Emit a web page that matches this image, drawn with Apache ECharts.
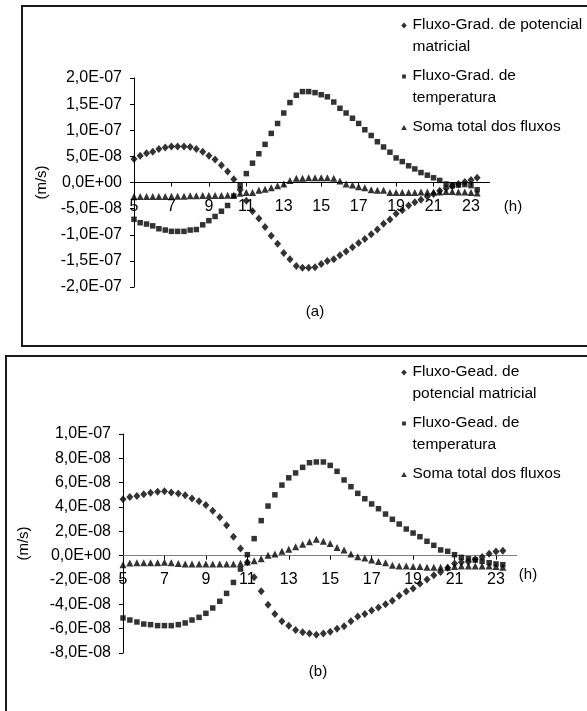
<!DOCTYPE html>
<html>
<head>
<meta charset="utf-8">
<script src="https://cdn.jsdelivr.net/npm/echarts@6/dist/echarts.min.js"></script>
<style>
html,body{margin:0;padding:0;background:#fff;}
#c{width:587px;height:711px;}
</style>
</head>
<body>
<div id="c"></div>
<script>
// ---------- data (values in units of 1E-08 m/s) ----------
const UNIT = 1e-8;
const hours = [5,5.33,5.67,6,6.33,6.67,7,7.33,7.67,8,8.33,8.67,9,9.33,9.67,10,10.33,10.67,11,11.33,11.67,12,12.33,12.67,13,13.33,13.67,14,
  14.33,14.67,15,15.33,15.67,16,16.33,16.67,17,17.33,17.67,18,18.33,18.67,19,19.33,19.67,20,20.33,20.67,21,21.33,21.67,22,22.33,22.67,23,23.33];

// (a)
const matA = [4.5,5.1,5.6,5.9,6.4,6.7,6.9,6.9,6.9,6.8,6.4,5.9,5.1,4.4,3.3,2.1,0.6,-1.4,-3.5,-5.5,-6.9,-8.5,-10.2,-11.7,-13.5,-14.7,-16.0,-16.3,
  -16.3,-16.2,-15.6,-15.0,-14.7,-13.9,-13.2,-12.4,-11.6,-10.8,-9.9,-9.0,-7.9,-7.1,-6.0,-5.3,-4.4,-3.8,-3.3,-2.7,-2.2,-1.6,-1.1,-0.7,-0.3,0.1,0.5,0.9];
const tempA = [-7.05,-7.7,-7.95,-8.3,-8.85,-9.1,-9.35,-9.35,-9.35,-9.1,-9.0,-8.1,-7.3,-6.5,-5.5,-4.4,-2.6,-0.6,1.7,3.7,5.5,7.3,9.4,11.3,13.3,15.3,16.7,17.4,
  17.4,17.2,16.8,16.4,15.4,14.2,13.3,12.3,11.3,10.1,9.0,7.8,6.8,5.8,4.7,4.0,3.2,2.6,1.9,1.4,0.9,0.4,-0.3,-0.6,-0.5,-0.4,-0.6,-1.4];
const sumA = [-2.7,-2.7,-2.7,-2.7,-2.7,-2.7,-2.65,-2.65,-2.65,-2.55,-2.55,-2.5,-2.5,-2.5,-2.5,-2.45,-2.4,-2.05,-1.9,-1.9,-1.5,-1.3,-1.0,-0.6,-0.3,0.4,0.8,0.8,
  0.9,0.9,0.9,0.9,0.8,0.3,-0.3,-0.5,-0.8,-1.0,-1.4,-1.5,-1.5,-1.9,-1.9,-1.9,-1.9,-1.9,-1.8,-1.8,-1.8,-1.8,-1.7,-1.7,-1.8,-1.8,-1.9,-2.0];

// (b)
const matB = [4.63,4.82,4.9,5.04,5.18,5.26,5.29,5.2,5.1,4.96,4.7,4.47,4.16,3.7,3.15,2.5,1.56,0.58,-0.55,-1.78,-2.93,-4.03,-4.8,-5.4,-5.75,-6.1,-6.3,-6.4,
  -6.5,-6.4,-6.25,-6.0,-5.8,-5.4,-5.0,-4.8,-4.5,-4.25,-4.0,-3.7,-3.3,-2.95,-2.7,-2.3,-1.95,-1.6,-1.35,-1.0,-0.65,-0.55,-0.5,-0.3,-0.1,0.15,0.35,0.4];
const tempB = [-5.12,-5.29,-5.45,-5.62,-5.67,-5.75,-5.75,-5.75,-5.67,-5.53,-5.29,-5.07,-4.74,-4.3,-3.75,-3.1,-2.2,-1.1,0.08,1.4,2.88,4.08,5.0,5.8,6.4,6.8,7.26,7.64,
  7.7,7.7,7.42,6.93,6.22,5.67,5.12,4.68,4.25,3.86,3.42,2.99,2.6,2.19,1.86,1.56,1.18,0.85,0.47,0.36,0.08,-0.14,-0.25,-0.36,-0.47,-0.58,-0.68,-0.74];
const sumB = [-0.74,-0.6,-0.58,-0.58,-0.58,-0.58,-0.55,-0.58,-0.65,-0.68,-0.68,-0.68,-0.68,-0.68,-0.68,-0.68,-0.68,-0.62,-0.52,-0.41,-0.25,0.03,0.14,0.36,0.52,0.74,0.93,1.15,
  1.35,1.18,1.01,0.68,0.47,0.14,-0.08,-0.19,-0.36,-0.47,-0.58,-0.79,-0.85,-0.85,-0.9,-0.9,-0.96,-0.96,-0.96,-0.96,-0.9,-0.85,-0.85,-0.85,-0.85,-0.85,-0.9,-0.96];

// ---------- names and tick labels ----------
const namesA = ['Fluxo-Grad. de potencial\nmatricial', 'Fluxo-Grad. de\ntemperatura', 'Soma total dos fluxos'];
const namesB = ['Fluxo-Gead. de\npotencial matricial', 'Fluxo-Gead. de\ntemperatura', 'Soma total dos fluxos'];
const xTicks = [5,7,9,11,13,15,17,19,21,23];
const xLabels = ['5','7','9','11','13','15','17','19','21','23'];
const yLabelsA = ['-2,0E-07','-1,5E-07','-1,0E-07','-5,0E-08','0,0E+00','5,0E-08','1,0E-07','1,5E-07','2,0E-07'];
const yLabelsB = ['-8,0E-08','-6,0E-08','-4,0E-08','-2,0E-08','0,0E+00','2,0E-08','4,0E-08','6,0E-08','8,0E-08','1,0E-07'];
const yA = {min: -2e-7, max: 2e-7, interval: 5e-8};
const yB = {min: -8e-8, max: 1e-7, interval: 2e-8};

// ---------- build ----------
const FONT = 'Liberation Sans';
const gridA = {left: 134, top: 78, width: 355.7, height: 209};
const gridB = {left: 123, top: 434, width: 393.7, height: 219};
const pts = arr => hours.map((h, i) => [h, arr[i] * UNIT]);
const iconDiamond = 'path://M0,0L0.01,0M7,44L6.99,44M3.5,8.5L6.3,11.5L3.5,14.5L0.7,11.5Z';
const iconSquare  = 'path://M0,0L0.01,0M7,44L6.99,44M1.6,9.6L5.4,9.6L5.4,13.4L1.6,13.4Z';
const iconTri     = 'path://M0,0L0.01,0M7,44L6.99,44M3.5,9L6.4,14L0.6,14Z';

// place the x axis on the y = 0 line of its grid
function zeroOffset(grid, cfg) {
  return -grid.height * (0 - cfg.min) / (cfg.max - cfg.min);
}
function xAxis(gi, lineColor, grid, cfg) {
  return {
    type: 'value', gridIndex: gi, min: 5, max: 24, interval: 1,
    position: 'bottom', offset: zeroOffset(grid, cfg),
    splitLine: {show: false},
    axisLine: {onZero: false, lineStyle: {color: lineColor, width: 1}},
    axisTick: {show: true, customValues: xTicks, length: 4, lineStyle: {color: '#000'}},
    axisLabel: {customValues: xTicks, formatter: v => xLabels[xTicks.indexOf(v)] || '',
      color: '#000', fontSize: 16, fontFamily: FONT, margin: 16}
  };
}
function yAxis(gi, cfg, labels, gap) {
  return {
    type: 'value', gridIndex: gi, min: cfg.min, max: cfg.max, interval: cfg.interval,
    splitLine: {show: false},
    name: '(m/s)', nameLocation: 'middle', nameGap: gap, nameRotate: 90,
    nameTextStyle: {color: '#000', fontSize: 15, fontFamily: FONT},
    axisLine: {show: true, onZero: false, lineStyle: {color: '#000', width: 1}},
    axisTick: {show: true, length: 4, lineStyle: {color: '#000'}},
    axisLabel: {formatter: v => labels[Math.round((v - cfg.min) / cfg.interval)] || '',
      color: '#000', fontSize: 16, fontFamily: FONT, margin: 12}
  };
}
function scatter(name, gi, arr, sym, size) {
  return {type: 'scatter', name: name, xAxisIndex: gi, yAxisIndex: gi, data: pts(arr),
    symbol: sym, symbolSize: size, itemStyle: {color: '#000'}, silent: true};
}
function legend(names, top) {
  return {
    orient: 'vertical', left: 400.5, top: top, padding: 0, itemWidth: 7, itemHeight: 44, itemGap: 7,
    selectedMode: false,
    itemStyle: {borderWidth: 0},
    data: [{name: names[0], icon: iconDiamond}, {name: names[1], icon: iconSquare}, {name: names[2], icon: iconTri}],
    formatter: n => n.indexOf('\n') >= 0 ? n : n + '\n ',
    textStyle: {color: '#000', fontSize: 15.5, lineHeight: 22, fontFamily: FONT}
  };
}
const txt = (x, y, t) => ({type: 'text', x: x, y: y, style: {text: t, fill: '#000', font: '15px "' + FONT + '"', textAlign: 'center', textVerticalAlign: 'middle'}});

const chart = echarts.init(document.getElementById('c'), null, {renderer: 'canvas'});
chart.setOption({
  animation: false,
  backgroundColor: '#fff',
  grid: [gridA, gridB],
  xAxis: [xAxis(0, '#000', gridA, yA), xAxis(1, '#808080', gridB, yB)],
  yAxis: [yAxis(0, yA, yLabelsA, 78), yAxis(1, yB, yLabelsB, 92)],
  legend: [legend(namesA, 14), legend(namesB, 361)],
  series: [
    scatter(namesA[2], 0, sumA, 'triangle', 7),
    scatter(namesA[1], 0, tempA, 'rect', 5.5),
    scatter(namesA[0], 0, matA, 'diamond', [7, 8]),
    scatter(namesB[2], 1, sumB, 'triangle', 7),
    scatter(namesB[1], 1, tempB, 'rect', 5.5),
    scatter(namesB[0], 1, matB, 'diamond', [7, 8])
  ],
  graphic: [
    {type: 'rect', shape: {x: 22, y: 6, width: 620, height: 340}, style: {fill: 'none', stroke: '#1a1a1a', lineWidth: 2}, silent: true},
    {type: 'rect', shape: {x: 6, y: 356, width: 640, height: 420}, style: {fill: 'none', stroke: '#1a1a1a', lineWidth: 2}, silent: true},
    txt(513, 207, '(h)'),
    txt(528, 575, '(h)'),
    txt(315, 312, '(a)'),
    txt(318, 672, '(b)')
  ]
});
</script>
</body>
</html>
